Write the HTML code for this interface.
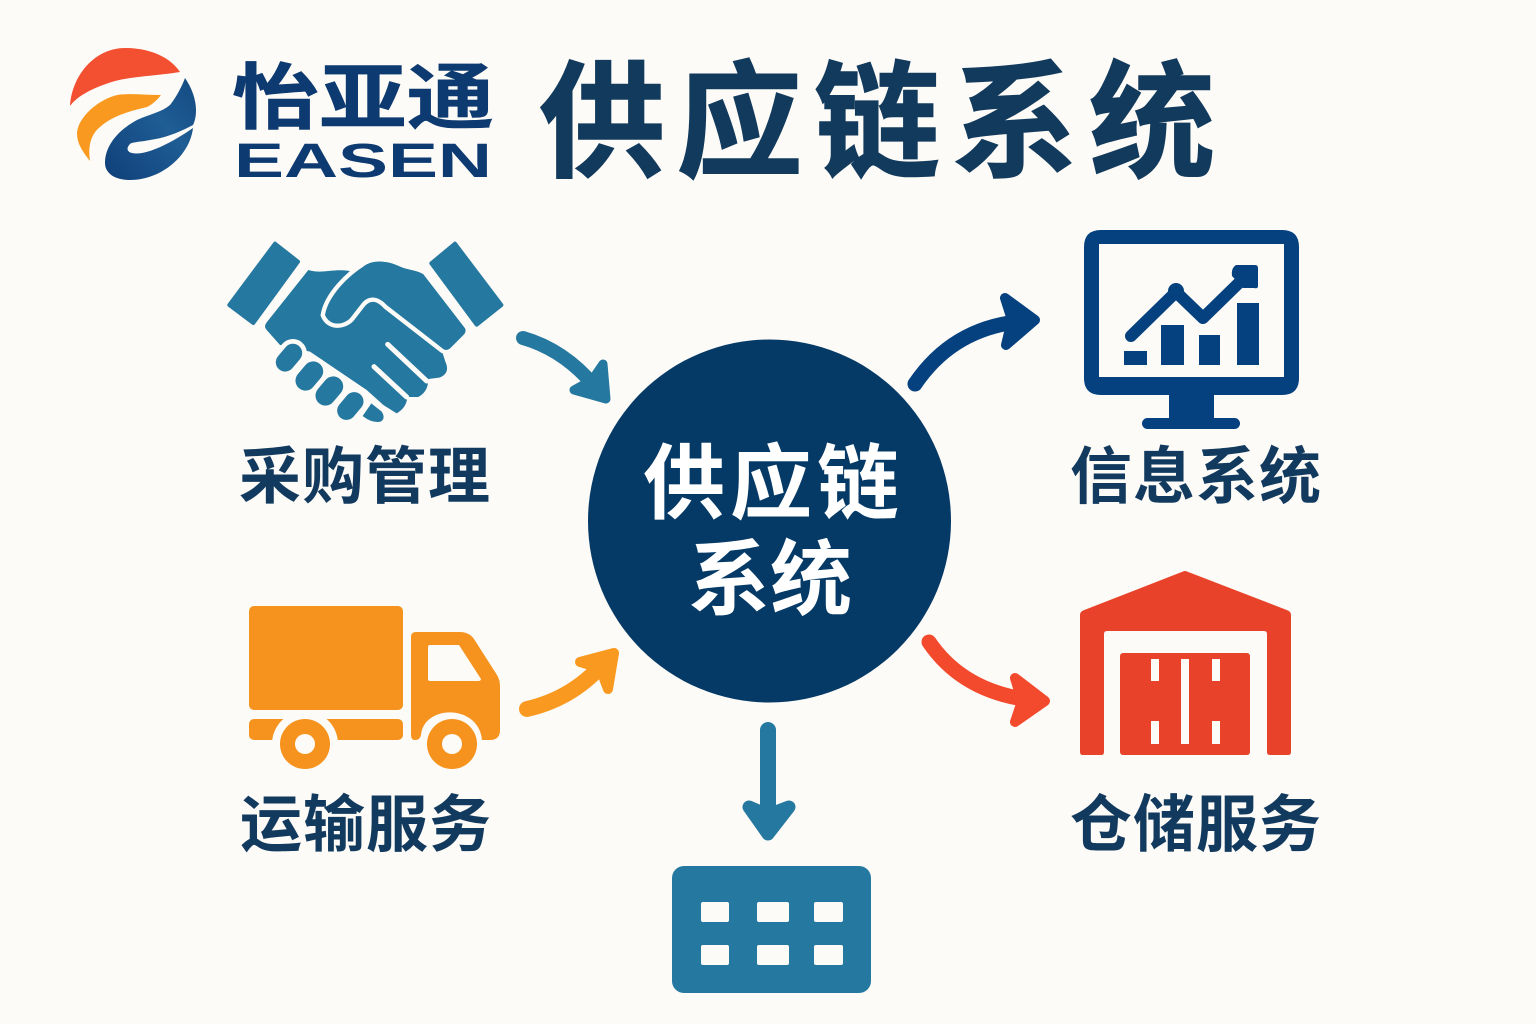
<!DOCTYPE html>
<html lang="zh"><head><meta charset="utf-8"><title>供应链系统</title>
<style>html,body{margin:0;padding:0;background:#fdfbf7}svg{display:block}
text{font-family:"Liberation Sans","Noto Sans CJK SC",sans-serif;font-weight:700}</style></head>
<body>
<svg width="1536" height="1024" viewBox="0 0 1536 1024" xmlns="http://www.w3.org/2000/svg">
<defs><linearGradient id="b" x1="0" y1="1" x2="1" y2="0"><stop offset="0" stop-color="#0f3f78"/><stop offset=".6" stop-color="#1f5d95"/><stop offset="1" stop-color="#134a80"/></linearGradient></defs>
<rect width="1536" height="1024" fill="#fdfbf7"/>
<!-- logo -->
<path d="M70 106C72 75 95 48 125 48C150 48 170 57 180 72C155 76 135 76 115 81C95 87 78 95 70 106Z" fill="#f34f31"/>
<path d="M161 95C145 95 130 93 117 95C97 100 78 118 77 133C77 145 84 153 90 161C88 148 90 135 100 127C112 116 130 111 147 107C153 104 157 100 161 95Z" fill="#f9991f"/>
<path d="M185 78C192 88 196 100 196 110C196 116 195 121 193 125C180 132 165 138 150 140C140 142 132 142 130 144C126 148 127 152 132 153C145 156 170 144 193 128C190 155 162 180 130 180C113 180 105 172 105 163C105 148 115 132 137 120C150 114 162 112 170 105C177 96 182 86 185 78Z" fill="url(#b)"/>
<text x="232" y="123" font-size="72" fill="#0d3a70" stroke="#0d3a70" stroke-width=".6" textLength="262" lengthAdjust="spacingAndGlyphs">怡亚通</text>
<text x="234" y="177" font-size="48" fill="#0d3a70" textLength="258" lengthAdjust="spacingAndGlyphs">EASEN</text>
<!-- title -->
<text x="539" y="167" font-size="126" fill="#123a5c" stroke="#123a5c" stroke-width="1.5" letter-spacing="11.5">供应链系统</text>
<!-- handshake -->
<g transform="translate(210 225) scale(.33333)" fill="#25789f">
<path d="M195 56L264 110L130 294L58 240Z" stroke="#25789f" stroke-width="12" stroke-linejoin="round"/>
<path d="M735 56L874 240L800 299L664 115Z" stroke="#25789f" stroke-width="12" stroke-linejoin="round"/>
<path d="M295 135C335 148 370 130 418 138L640 200L706 410Q722 445 688 458L655 462Q655 500 625 516L592 516Q590 548 560 565L520 540L470 495L300 380L210 360L170 315Q160 305 170 292Z"/>
<path d="M345 270C355 210 420 150 460 125C490 100 540 110 570 125C590 135 620 135 640 148L765 310Q770 320 760 330L720 370Q710 378 700 372L530 240C510 218 480 205 455 235L420 280C400 300 360 305 345 270Z" stroke="#fdfbf7" stroke-width="26" paint-order="stroke"/>
<path d="M640 148L765 310Q770 320 760 330L720 370Q710 378 700 372L600 290L560 130Z"/>
<path d="M460 125C490 100 540 110 570 125C590 135 620 135 640 148L660 200L500 190L420 170Z"/>
<path d="M533 358L650 468M492 425L590 516" stroke="#fdfbf7" stroke-width="15" stroke-linecap="round" fill="none"/>
<g stroke="#fdfbf7" stroke-width="28" paint-order="stroke">
<rect x="191" y="370" width="92" height="56" rx="28" transform="rotate(-50 237 398)"/>
<rect x="250" y="423" width="96" height="60" rx="30" transform="rotate(-50 298 453)"/>
<rect x="310" y="468" width="96" height="60" rx="30" transform="rotate(-50 358 498)"/>
<rect x="375" y="515" width="92" height="56" rx="28" transform="rotate(-50 421 543)"/>
</g>
<path d="M458 573L484 535L515 560Q528 580 512 590Q485 595 458 573Z"/>
</g>
<!-- monitor -->
<g fill="#05417f">
<path fill-rule="evenodd" d="M1101 230H1282Q1299 230 1299 247V378Q1299 395 1282 395H1101Q1084 395 1084 378V247Q1084 230 1101 230ZM1099 244V377H1284V244Z"/>
<rect x="1169" y="394" width="45" height="26"/><rect x="1142" y="418" width="98" height="11" rx="5.5"/>
<rect x="1124" y="351" width="23" height="14"/><rect x="1161" y="325" width="23" height="40"/><rect x="1199" y="335" width="21" height="30"/><rect x="1237" y="303" width="22" height="62"/>
<path d="M1131 336L1176 292L1203 318L1246 276" fill="none" stroke="#05417f" stroke-width="12" stroke-linecap="round" stroke-linejoin="round"/>
<circle cx="1176" cy="291" r="8"/>
<path d="M1236 265H1255Q1258 265 1258 268V286Q1258 289 1254 288H1243L1232 276Q1231 268 1236 265Z"/>
</g>
<!-- warehouse -->
<g fill="#e8432a">
<path d="M1183 571.5Q1185 570.5 1187 571.5L1288 610.5Q1291 612 1291 615V752Q1291 755 1288 755H1270Q1267 755 1267 752V634Q1267 631 1264 631H1107Q1104 631 1104 634V752Q1104 755 1101 755H1083Q1080 755 1080 752V615Q1080 612 1083 610.5Z"/>
<rect x="1120" y="653" width="130" height="102" rx="3"/>
<g fill="#fdfbf7"><rect x="1151" y="659" width="8" height="22"/><rect x="1212" y="659" width="8" height="22"/><rect x="1181" y="659" width="8" height="85"/><rect x="1151" y="721" width="8" height="23"/><rect x="1212" y="721" width="8" height="23"/></g>
</g>
<!-- truck -->
<g fill="#f5931e">
<rect x="249" y="606" width="154" height="104" rx="5"/>
<rect x="249" y="719" width="154" height="21" rx="5"/>
<circle cx="305" cy="744" r="33" fill="#fdfbf7"/>
<path d="M416 632H460Q469 632 474 639L497 675Q500 680 500 686V730Q500 740 490 740H482C479 704 424 704 421 735Q420 740 415 740Q411 740 411 735V637Q411 632 416 632Z"/>
<path fill="#fdfbf7" d="M430 645H459L481 679Q481 681 478 681H430Q428 681 428 679V647Q428 645 430 645Z"/>
<circle cx="305" cy="744" r="25"/><circle cx="305" cy="744" r="10" fill="#fdfbf7"/>
<circle cx="452" cy="744" r="25"/><circle cx="452" cy="744" r="10" fill="#fdfbf7"/>
</g>
<!-- bottom box -->
<rect x="672" y="866" width="199" height="127" rx="12" fill="#25789f"/>
<g fill="#fdfbf7"><rect x="701" y="902" width="28" height="20" rx="2"/><rect x="757" y="902" width="32" height="20" rx="2"/><rect x="814" y="902" width="29" height="20" rx="2"/><rect x="701" y="945" width="28" height="20" rx="2"/><rect x="757" y="945" width="32" height="20" rx="2"/><rect x="814" y="945" width="29" height="20" rx="2"/></g>
<!-- circle -->
<circle cx="769.5" cy="521" r="181.5" fill="#053a66"/>
<text x="643" y="512" font-size="82" fill="#fff" letter-spacing="5">供应链</text>
<text x="688" y="608" font-size="82" fill="#fff">系统</text>
<!-- arrows -->
<g stroke-linecap="round" stroke-linejoin="round">
<g stroke="#25789f" fill="#25789f"><path d="M523 338Q565 350 596 388" stroke-width="14" fill="none"/><path d="M603 364L606 399L574 390L592 380Z" stroke-width="9"/></g>
<g stroke="#05417f" fill="#05417f"><path d="M915 384Q955 325 1028 321" stroke-width="15" fill="none"/><path d="M1005 298L1035 320L1006 345L1012 320Z" stroke-width="10"/></g>
<g stroke="#f9991f" fill="#f9991f"><path d="M527 709Q575 698 606 660" stroke-width="16" fill="none"/><path d="M580 662L614 653L608 689L600 668Z" stroke-width="10"/></g>
<g stroke="#f34a2e" fill="#f34a2e"><path d="M929 642Q965 695 1040 701" stroke-width="15" fill="none"/><path d="M1015 678L1045 701L1015 722L1022 701Z" stroke-width="10"/></g>
<g stroke="#25789f" fill="#25789f"><path d="M768 730V825" stroke-width="16" fill="none"/><path d="M749 807L768 834L789 807L768 815Z" stroke-width="13"/></g>
</g>
<!-- labels -->
<g font-size="62" fill="#123a5e" letter-spacing="1">
<text x="239" y="498">采购管理</text>
<text x="1070" y="498">信息系统</text>
<text x="240" y="846">运输服务</text>
<text x="1070" y="846">仓储服务</text>
</g>
</svg>
</body></html>
